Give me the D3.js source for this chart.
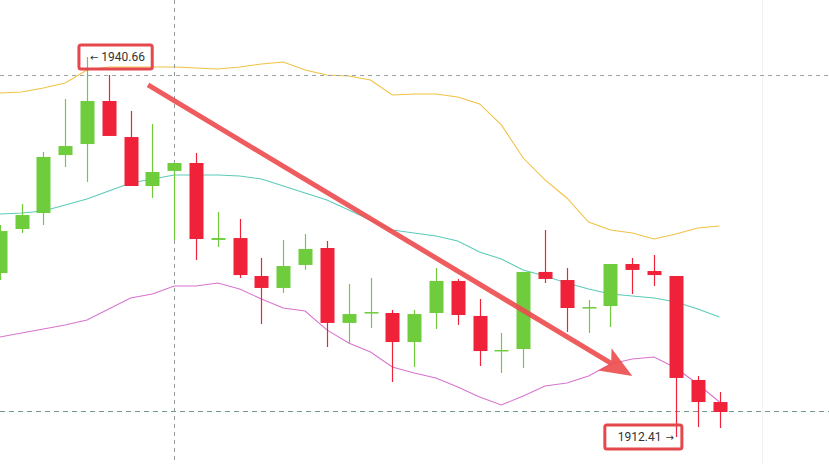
<!DOCTYPE html>
<html>
<head>
<meta charset="utf-8">
<script src="https://cdn.jsdelivr.net/npm/d3@7"></script>
<style>
  html, body { margin: 0; padding: 0; background: #fff; }
  svg { display: block; }
</style>
</head>
<body>
<div id="chart"></div>
<script>
// candles, one per bar (open, high, low, close)
const opens  = [1924.60, 1927.87, 1929.06, 1933.37, 1934.19, 1937.39, 1934.71, 1931.07, 1932.19, 1932.78,
                1927.06, 1927.20, 1924.38, 1923.49, 1925.20, 1926.46, 1920.89, 1921.63, 1921.63, 1919.47,
                1921.63, 1924.01, 1921.41, 1918.80, 1918.95, 1924.68, 1924.08, 1922.03, 1922.15, 1925.27,
                1924.75, 1924.38, 1916.65, 1915.01];
const highs  = [1928.17, 1929.73, 1933.60, 1937.54, 1940.66, 1939.32, 1936.65, 1935.68, 1932.78, 1933.52,
                1929.14, 1928.62, 1925.72, 1927.06, 1927.50, 1926.98, 1923.78, 1924.23, 1921.85, 1921.85,
                1924.97, 1924.16, 1922.67, 1920.14, 1924.68, 1927.80, 1924.97, 1922.60, 1925.27, 1925.72,
                1925.94, 1924.38, 1916.95, 1915.76];
const lows   = [1924.08, 1927.58, 1928.17, 1932.48, 1931.37, 1934.79, 1931.07, 1930.18, 1927.06, 1925.57,
                1926.54, 1924.23, 1920.81, 1923.12, 1924.83, 1919.10, 1919.40, 1920.51, 1916.50, 1917.61,
                1920.44, 1920.74, 1917.69, 1917.17, 1917.54, 1923.86, 1920.22, 1920.14, 1920.59, 1923.04,
                1923.64, 1912.41, 1913.15, 1913.08];
const closes = [1927.72, 1928.91, 1933.23, 1934.04, 1937.39, 1934.79, 1931.07, 1932.11, 1932.78, 1927.13,
                1927.20, 1924.45, 1923.49, 1925.12, 1926.39, 1920.89, 1921.55, 1921.70, 1919.47, 1921.55,
                1924.01, 1921.48, 1918.80, 1918.88, 1924.68, 1924.16, 1922.00, 1922.07, 1925.27, 1924.83,
                1924.45, 1916.80, 1915.01, 1914.27];

// bollinger bands
const upperBand  = [1937.98, 1938.06, 1938.36, 1938.73, 1939.69, 1939.92, 1939.92, 1939.92, 1939.92, 1939.84,
                    1939.77, 1939.92, 1940.14, 1940.29, 1939.69, 1939.32, 1939.25, 1938.95, 1937.84, 1937.91,
                    1937.91, 1937.69, 1937.17, 1935.61, 1933.15, 1931.52, 1930.18, 1928.39, 1927.80, 1927.58,
                    1927.13, 1927.50, 1927.95, 1928.10];
const middleBand = [1928.99, 1929.06, 1929.21, 1929.66, 1930.10, 1930.70, 1931.29, 1931.59, 1931.89, 1931.89,
                    1931.89, 1931.81, 1931.59, 1931.07, 1930.55, 1930.03, 1929.29, 1928.54, 1927.80, 1927.58,
                    1927.35, 1926.98, 1926.16, 1925.64, 1924.83, 1924.38, 1923.86, 1923.41, 1923.04, 1922.89,
                    1922.74, 1922.45, 1921.93, 1921.33];
const lowerBand  = [1919.84, 1920.14, 1920.44, 1920.74, 1921.11, 1921.93, 1922.74, 1923.04, 1923.64, 1923.64,
                    1923.86, 1923.41, 1922.67, 1922.00, 1921.78, 1920.37, 1919.40, 1918.73, 1917.61, 1917.17,
                    1916.80, 1916.13, 1915.38, 1914.79, 1915.46, 1916.20, 1916.42, 1916.95, 1917.84, 1918.21,
                    1918.36, 1917.54, 1916.35, 1915.01];

// crosshair and annotations
const crossIndex = 8;
const crossPrice = 1939.32;
const lastPriceLine = 1914.34;
const highLabel = "1940.66";
const lowLabel = "1912.41";
const highIndex = 4, lowIndex = 31;
const trendFrom = [6.8, 1938.58];
const trendTo = [29.0, 1916.95];

const width = 829, height = 464;

const svg = d3.select("#chart")
    .append("svg")
    .attr("width", width)
    .attr("height", height)
    .attr("viewBox", `0 0 ${width} ${height}`);

const x = d3.scaleLinear().domain([0, opens.length - 1]).range([-0.3, 719.5]);
const y = d3.scaleLinear().domain([1912.41, 1940.66]).range([437, 57]);

const green = "#6fcc3c", red = "#ef2239";
const candles = opens.map((o, i) => ({ i, o, h: highs[i], l: lows[i], c: closes[i] }));

// faint grid line on the right
svg.append("line")
    .attr("x1", 762.5).attr("x2", 762.5)
    .attr("y1", 0).attr("y2", height)
    .attr("stroke", "#f1f3f3");

// bands
const bandLine = d3.line().x((d, i) => x(i)).y(d => y(d));
[[upperBand, "#f0c245"], [middleBand, "#5ccbb9"], [lowerBand, "#d874cf"]].forEach(([vals, col]) => {
    svg.append("path")
        .attr("d", bandLine(vals))
        .attr("fill", "none")
        .attr("stroke", col)
        .attr("stroke-width", 1.1);
});

// crosshair dashed lines
svg.append("line")
    .attr("x1", 0).attr("x2", width)
    .attr("y1", Math.round(y(crossPrice)) + 0.5).attr("y2", Math.round(y(crossPrice)) + 0.5)
    .attr("stroke", "#9aa3a3")
    .attr("stroke-dasharray", "4,4");
svg.append("line")
    .attr("x1", 0).attr("x2", width)
    .attr("y1", Math.round(y(lastPriceLine)) + 0.5).attr("y2", Math.round(y(lastPriceLine)) + 0.5)
    .attr("stroke", "#6f9993")
    .attr("stroke-dasharray", "5,4");
svg.append("line")
    .attr("x1", Math.round(x(crossIndex)) + 0.5).attr("x2", Math.round(x(crossIndex)) + 0.5)
    .attr("y1", 0).attr("y2", height)
    .attr("stroke", "#8f9898")
    .attr("stroke-dasharray", "4,4");

// candlesticks
const bodyW = 14;
const g = svg.append("g");
g.selectAll("line.wick")
    .data(candles)
    .join("line")
    .attr("class", "wick")
    .attr("x1", d => Math.round(x(d.i)) + 0.5)
    .attr("x2", d => Math.round(x(d.i)) + 0.5)
    .attr("y1", d => y(d.h))
    .attr("y2", d => y(d.l))
    .attr("stroke", d => d.c >= d.o ? green : red)
    .attr("stroke-width", 1.2);
g.selectAll("rect.body")
    .data(candles)
    .join("rect")
    .attr("class", "body")
    .attr("x", d => Math.round(x(d.i)) - bodyW / 2 + 0.5)
    .attr("width", bodyW)
    .attr("y", d => y(Math.max(d.o, d.c)))
    .attr("height", d => Math.max(1.5, Math.abs(y(d.o) - y(d.c))))
    .attr("fill", d => d.c >= d.o ? green : red);

// trend arrow
const ax0 = x(trendFrom[0]), ay0 = y(trendFrom[1]);
const ax1 = x(trendTo[0]), ay1 = y(trendTo[1]);
const ang = Math.atan2(ay1 - ay0, ax1 - ax0);
const headLen = 32, headHalf = 13, shaft = 2.5;
const ux = Math.cos(ang), uy = Math.sin(ang), nx = -uy, ny = ux;
const bx = ax1 - ux * headLen, by = ay1 - uy * headLen;
const arrowPts = [
    [ax0 + nx * shaft, ay0 + ny * shaft],
    [bx + ux * 6 + nx * shaft, by + uy * 6 + ny * shaft],
    [bx + nx * headHalf, by + ny * headHalf],
    [ax1, ay1],
    [bx - nx * headHalf, by - ny * headHalf],
    [bx + ux * 6 - nx * shaft, by + uy * 6 - ny * shaft],
    [ax0 - nx * shaft, ay0 - ny * shaft]
];
svg.append("path")
    .attr("d", d3.line()(arrowPts) + "Z")
    .attr("fill", "#ec4a4d")
    .attr("fill-opacity", 0.9);

// price labels with red boxes
function priceLabel(px, py, text, side) {
    const lg = svg.append("g");
    const t = lg.append("text")
        .attr("font-family", "Roboto, Arial, sans-serif")
        .attr("font-size", 12)
        .attr("fill", "#333");
    let padL, padR;
    if (side === "left") {
        t.attr("x", px + 3).attr("y", py + 4);
        t.append("tspan").attr("font-family", "DejaVu Sans").attr("font-size", 10).text("\u2190");
        t.append("tspan").attr("dx", 3).text(text);
        padL = 11; padR = 7;
    } else {
        t.attr("x", px - 2).attr("y", py + 4).attr("text-anchor", "end");
        t.append("tspan").text(text);
        t.append("tspan").attr("dx", 4).attr("font-family", "DejaVu Sans").attr("font-size", 10).text("\u2192");
        padL = 13; padR = 8;
    }
    const bb = t.node().getBBox();
    lg.insert("rect", "text")
        .attr("x", bb.x - padL).attr("y", bb.y - 5)
        .attr("width", bb.width + padL + padR).attr("height", bb.height + 10)
        .attr("rx", 2)
        .attr("fill", "none")
        .attr("stroke", "#e4474c")
        .attr("stroke-width", 3);
}
priceLabel(x(highIndex), y(highs[highIndex]), highLabel, "left");
priceLabel(x(lowIndex), y(lows[lowIndex]), lowLabel, "right");
</script>
</body>
</html>
